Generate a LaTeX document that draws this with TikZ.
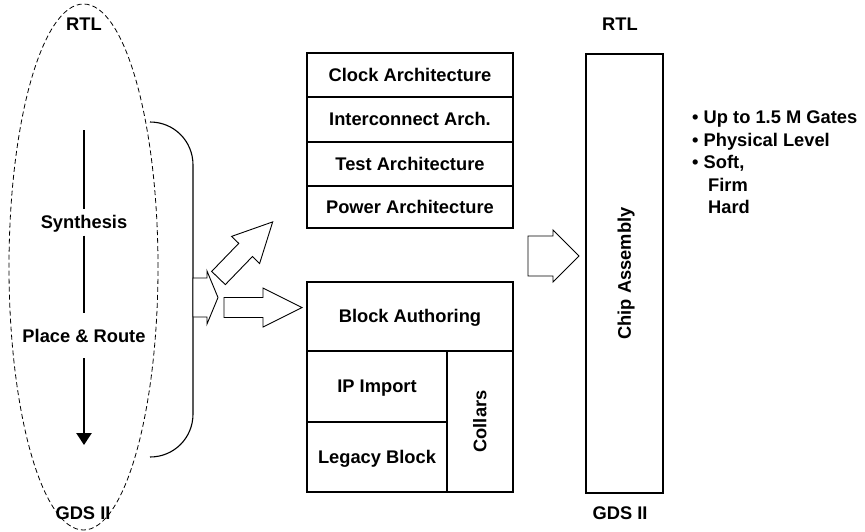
\documentclass[tikz,border=0pt]{standalone}
\usepackage{fontspec}
\setmainfont{Liberation Sans}
\usetikzlibrary{arrows.meta,shapes.geometric}
\begin{document}
\begin{tikzpicture}[x=1pt,y=-1pt,
  every node/.style={font=\fontsize{18.3}{22}\selectfont\bfseries},
  box/.style={draw, line width=1.1pt, inner sep=0pt, text height=16.5pt, text depth=3.9pt},
  lbl/.style={inner sep=0pt},
  seg/.style={line width=2.6pt},
  blk/.style={draw, fill=white, line width=0.9pt, line join=miter},
  ]
\useasboundingbox (0,0) rectangle (865,531);

% left flow ellipse
\node[ellipse, draw, dash pattern=on 5pt off 3pt, line width=0.8pt, minimum width=149, minimum height=526, inner sep=0pt] (ell) at (83.5,267) {};
\node[lbl] (rtlL) at (84,24) {RTL};
\node[lbl] (gdsL) at (83,513) {GDS II};
\coordinate (aTop) at (84,130);
\coordinate (aBot) at (84,445);
\node[lbl, text height=13pt, text depth=4pt, inner ysep=3pt] (syn) at (84,224) {Synthesis};
\node[lbl, text height=13pt, text depth=4pt, inner ysep=3pt] (pr) at (84,338) {Place \& Route};
\draw[seg, shorten >=3.5pt] (aTop) -- (syn.north);
\draw[seg, shorten >=13.5pt] (syn.south) -- (pr.north);
\draw[seg, shorten <=8.5pt, -{Triangle[length=12pt,width=15pt]}] (pr.south) -- (aBot);

% bracket
\draw[line width=1.1pt] (150,122) .. controls (174,122) and (193,141) .. (193,165) -- (193,414) .. controls (193,438) and (174,457) .. (150,457);

% block arrows
\draw[blk] (193,278) -- (207,278) -- (207,271) -- (218,297.5) -- (207,324) -- (207,317) -- (193,317) -- cycle;
\draw[blk, shift={(218.5,278)}, rotate=46] (0,-9.5) -- (39,-9.5) -- (39,-19.5) -- (78,0) -- (39,19.5) -- (39,9.5) -- (0,9.5) -- cycle;
\draw[blk] (224,297.5) -- (263,297.5) -- (263,288) -- (302,307.5) -- (263,327) -- (263,317.5) -- (224,317.5) -- cycle;
\draw[blk] (528,236) -- (553,236) -- (553,230) -- (579,256) -- (553,282) -- (553,276) -- (528,276) -- cycle;

% architecture stack
\node[box, minimum width=206, minimum height=44] (clk) at (410,75) {Clock Architecture};
\node[box, minimum width=206, minimum height=45] (ic) at (410,119.5) {Interconnect Arch.};
\node[box, minimum width=206, minimum height=44] (tst) at (410,164) {Test Architecture};
\node[box, minimum width=206, minimum height=42] (pwr) at (410,207) {Power Architecture};

% block stack
\node[box, minimum width=206, minimum height=69] (ba) at (410,316.5) {Block Authoring};
\node[box, minimum width=140, minimum height=71] (ip) at (377,386.5) {IP Import};
\node[box, minimum width=140, minimum height=70] (leg) at (377,457) {Legacy Block};
\node[box, rotate=90, minimum width=141, minimum height=66] (col) at (480,421.5) {Collars};

% chip assembly
\node[box, rotate=90, minimum width=439, minimum height=77] (chip) at (624.5,273.5) {Chip Assembly};
\node[lbl] (rtlR) at (620,24) {RTL};
\node[lbl] (gdsR) at (620,513) {GDS II};

% bullets
\node[lbl, anchor=base west] (b1) at (692,123.5) {• Up to 1.5 M Gates};
\node[lbl, anchor=base west] (b2) at (692,146) {• Physical Level};
\node[lbl, anchor=base west] (b3) at (692,168.5) {• Soft,};
\node[lbl, anchor=base west] (b4) at (708,191) {Firm};
\node[lbl, anchor=base west] (b5) at (708,213.5) {Hard};
\end{tikzpicture}
\end{document}
